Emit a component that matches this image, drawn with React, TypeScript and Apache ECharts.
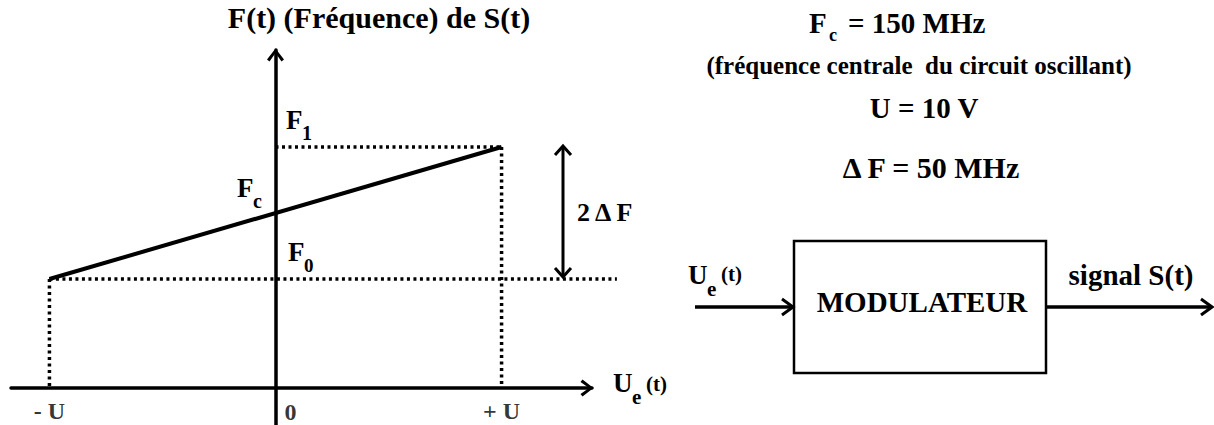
import React, { useEffect, useRef } from 'react';
import * as echarts from 'echarts';

// ---- Données ----
const U_VOLTS = 10;                 // U = 10 V
const FC_MHZ = 150;                 // Fc = 150 MHz
const DELTA_F_MHZ = 50;             // ΔF = 50 MHz
const inputVoltage = [-10, 10];     // -U, +U  (V)
const outputFreq = [100, 200];      // F0, F1  (MHz)
const tickValues = [-10, 0, 10];
const tickLabels = ['- U', '0', '+ U'];
const axisCrossF = 17.4;            // F where the Ue(t) axis crosses
const f0GuideEnd = 15.1;            // end of the F0 dotted guide (V)

// axis ranges
const X_MIN = -11.7;
const X_MAX = 14.0;
const X_MAX_WIDE = 16.5;
const Y_MIN = -10.6;
const Y_MAX = 273.5;

const FONT = "'Liberation Serif', 'Times New Roman', serif";
const CHEVRON = 'path://M8.5,0 L17,11 L14.5,13 L8.5,4.5 L2.5,13 L0,11 Z';

function txt(text: string, x: number, y: number, size: number, align: string = 'left') {
  return {
    type: 'text',
    x,
    y,
    silent: true,
    style: {
      text,
      fontSize: size,
      fontWeight: 'bold',
      fontFamily: FONT,
      fill: '#000',
      align,
      verticalAlign: 'middle',
    },
  };
}

function chevron(points: number[][]) {
  return {
    type: 'polyline',
    silent: true,
    shape: { points },
    style: { stroke: '#000', lineWidth: 3, fill: 'none', lineJoin: 'miter' },
  };
}

export default function App() {
  const ref = useRef<HTMLDivElement>(null);

  useEffect(() => {
    if (!ref.current) return;
    const chart = echarts.init(ref.current, null, { renderer: 'svg' });

    const dotted = { color: '#000', width: 3.5, type: [3, 3.5], cap: 'butt' };
    const guide = (name: string, data: number[][], xi = 0, yi = 0) => ({
      name,
      type: 'line',
      data,
      xAxisIndex: xi,
      yAxisIndex: yi,
      symbol: 'none',
      silent: true,
      lineStyle: dotted,
      z: 2,
    });

    const [uMinus, uPlus] = inputVoltage;
    const [f0, f1] = outputFreq;

    const gridLeft = 11;
    const gridWidth = 581;
    const wideWidth = ((X_MAX_WIDE - X_MIN) / (X_MAX - X_MIN)) * gridWidth;

    const hiddenY = (gridIndex: number, min: number, max: number) => ({
      type: 'value',
      gridIndex,
      show: false,
      min,
      max,
      splitLine: { show: false },
    });

    chart.setOption({
      animation: false,
      backgroundColor: '#fff',
      grid: [
        { left: gridLeft, width: gridWidth, top: 50, bottom: 0 },
        { left: gridLeft, width: wideWidth, top: 50, bottom: 0 },
      ],
      xAxis: [
        {
          type: 'value',
          gridIndex: 0,
          min: X_MIN,
          max: X_MAX,
          axisLine: {
            show: true,
            onZero: true,
            onZeroAxisIndex: 1,
            symbol: ['none', CHEVRON],
            symbolSize: [17, 13],
            symbolOffset: [0, -5],
            lineStyle: { color: '#000', width: 3.5 },
          },
          axisTick: { show: false },
          axisLabel: { show: false },
          splitLine: { show: false },
        },
        {
          type: 'value',
          gridIndex: 1,
          show: false,
          min: X_MIN,
          max: X_MAX_WIDE,
          splitLine: { show: false },
        },
      ],
      yAxis: [
        {
          type: 'value',
          gridIndex: 0,
          min: Y_MIN,
          max: Y_MAX,
          axisLine: {
            show: true,
            onZero: true,
            symbol: ['none', CHEVRON],
            symbolSize: [17, 13],
            symbolOffset: [0, -5],
            lineStyle: { color: '#000', width: 3.5 },
          },
          axisTick: { show: false },
          axisLabel: { show: false },
          splitLine: { show: false },
        },
        hiddenY(0, Y_MIN - axisCrossF, Y_MAX - axisCrossF),
        hiddenY(1, Y_MIN, Y_MAX),
      ],
      series: [
        guide('F1', [[0, f1], [uPlus, f1]]),
        guide('F0', [[uMinus, f0], [f0GuideEnd, f0]], 1, 2),
        guide('-U', [[uMinus, f0], [uMinus, axisCrossF]]),
        guide('+U', [[uPlus, f1], [uPlus, axisCrossF]]),
        {
          name: 'F(Ue)',
          type: 'line',
          data: [[uMinus, f0], [uPlus, f1]],
          symbol: 'none',
          silent: true,
          lineStyle: { color: '#000', width: 4 },
          z: 3,
        },
        {
          name: 'ticks',
          type: 'scatter',
          symbolSize: 0,
          silent: true,
          data: tickValues.map((v, i) => ({
            value: [v, axisCrossF],
            label: {
              show: true,
              position: 'inside',
              formatter: tickLabels[i],
              offset: v === 0 ? [15, 24] : [0, 23],
              fontSize: 24,
              fontWeight: 'bold',
              fontFamily: FONT,
              color: '#000',
            },
          })),
        },
      ],
      graphic: [
        // titre de l'axe vertical
        txt('F(t) (Fréquence) de S(t)', 379, 17, 30, 'center'),
        // étiquettes F1, Fc, F0
        txt('F', 286, 120, 27),
        txt('1', 302, 133, 20),
        txt('F', 237, 188, 27),
        txt('c', 253, 201, 20),
        txt('F', 288, 252, 27),
        txt('0', 304, 265, 19),
        // axe horizontal : Ue(t)
        txt('U', 613, 383, 27),
        txt('e', 632, 397, 21),
        txt('(t)', 646, 384, 21),
        // double flèche 2ΔF
        {
          type: 'line',
          silent: true,
          shape: { x1: 563, y1: 146, x2: 563, y2: 277 },
          style: { stroke: '#000', lineWidth: 3 },
        },
        chevron([[555, 155], [563, 146], [571, 155]]),
        chevron([[555, 268], [563, 277], [571, 268]]),
        txt('2 Δ F', 577, 212, 26),
        // paramètres
        txt('F', 809, 23, 29),
        txt('c', 829, 35, 18),
        txt('= 150 MHz', 848, 23, 29),
        txt('(fréquence centrale  du circuit oscillant)', 919, 65, 25, 'center'),
        txt('U = 10 V', 924, 108, 29, 'center'),
        txt('Δ F = 50 MHz', 931, 167, 30, 'center'),
        // schéma bloc
        {
          type: 'rect',
          silent: true,
          shape: { x: 794, y: 241, width: 252, height: 132 },
          style: { stroke: '#000', lineWidth: 2.5, fill: 'none' },
        },
        txt('MODULATEUR', 922, 302, 29, 'center'),
        {
          type: 'line',
          silent: true,
          shape: { x1: 695, y1: 307, x2: 793, y2: 307 },
          style: { stroke: '#000', lineWidth: 3.5 },
        },
        chevron([[782, 299], [793, 307], [782, 315]]),
        txt('U', 688, 275, 27),
        txt('e', 707, 289, 21),
        txt('(t)', 721, 274, 21),
        {
          type: 'line',
          silent: true,
          shape: { x1: 1046, y1: 307, x2: 1212, y2: 307 },
          style: { stroke: '#000', lineWidth: 3.5 },
        },
        chevron([[1201, 299], [1212, 307], [1201, 315]]),
        txt('signal S(t)', 1131, 275, 29, 'center'),
      ],
    });

    return () => chart.dispose();
  }, []);

  return (
    <div
      ref={ref}
      style={{ position: 'fixed', left: 0, top: 0, width: 1214, height: 425, background: '#fff' }}
    />
  );
}
